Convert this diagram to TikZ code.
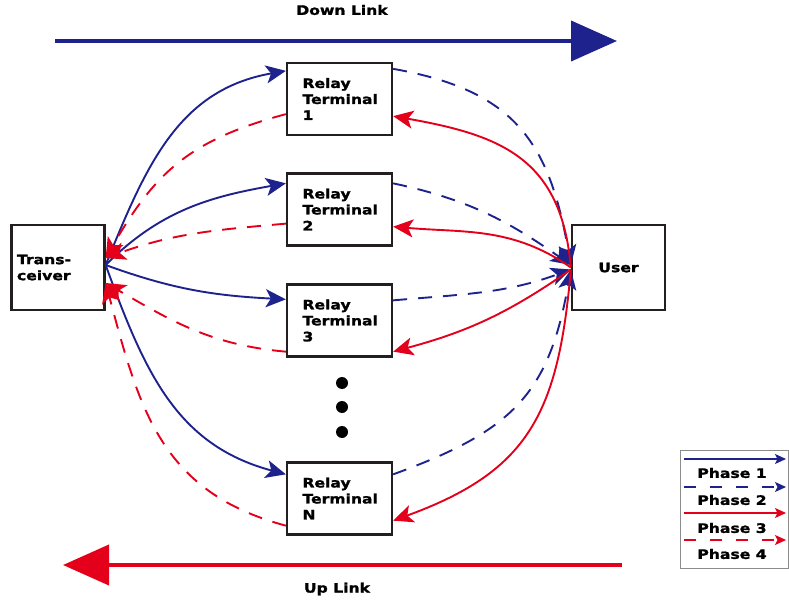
\documentclass[tikz,border=0pt]{standalone}
\usepackage{fontspec}
\setmainfont{DejaVu Sans}[FakeStretch=1.2, BoldFeatures={FakeBold=1.5}]
\usetikzlibrary{arrows.meta}
\definecolor{dblue}{RGB}{30,34,140}
\definecolor{dred}{RGB}{228,0,26}
\definecolor{boxline}{RGB}{35,31,32}
\begin{document}
\begin{tikzpicture}[x=1pt,y=1pt,
  lbl/.style={font=\bfseries\fontsize{13}{16}\selectfont},
  box/.style={draw=boxline, line width=2.3pt, fill=white, minimum width=105pt, minimum height=72pt,
    inner sep=0pt, font=\bfseries\fontsize{13}{16}\selectfont, align=left, text width=74pt},
  endbox/.style={box, minimum width=93pt, minimum height=85pt, text width=82pt},
  tip/.style={-{Stealth[length=20pt,width=18pt,inset=5pt]}},
  bl/.style={dblue, line width=1.9pt, tip},
  rd/.style={dred, line width=1.9pt, tip},
  dsh/.style={dash pattern=on 14pt off 11pt},
  big/.style={line width=4pt, -{Triangle[length=46pt,width=40pt]}},
  leg/.style={line width=1.2pt, -{Stealth[length=11pt,width=10pt,inset=2.5pt]}},
  dot/.style={circle, fill=black, minimum size=12pt, inner sep=0pt}
]
\useasboundingbox (0,0) rectangle (789,603);

% big link arrows
\coordinate (dlA) at (55,562);
\coordinate (dlB) at (617,562);
\draw[big, dblue] (dlA) -- (dlB);
\node[lbl] (dl) at (342,593) {Down Link};
\coordinate (ulA) at (622,38);
\coordinate (ulB) at (63,38);
\draw[big, dred] (ulA) -- (ulB);
\node[lbl] (ul) at (337,14) {Up Link};

% nodes
\node[endbox] (trx) at (58,335.5) {Trans-\\ceiver};
\node[endbox, align=center, text width=70pt] (user) at (618.5,335.5) {User};
\node[box] (r1) at (339.5,504) {Relay\\Terminal\\1};
\node[box] (r2) at (339.5,393.5) {Relay\\Terminal\\2};
\node[box] (r3) at (339.5,282.5) {Relay\\Terminal\\3};
\node[box] (rN) at (339.5,104.5) {Relay\\Terminal\\N};

\node[dot] (d1) at (342,220) {};
\node[dot] (d2) at (342,196) {};
\node[dot] (d3) at (342,171) {};

% phase 1: transceiver -> relays (blue solid)
\draw[bl] ([yshift=2.5pt]trx.east) to[out=68,in=190,looseness=1.05] ([yshift=-9pt]r1.north west);
\draw[bl] ([yshift=2.5pt]trx.east) to[out=45,in=190] ([yshift=-11pt]r2.north west);
\draw[bl] ([yshift=2.5pt]trx.east) to[out=-20,in=177] ([yshift=-16pt]r3.north west);
\draw[bl] ([yshift=2.5pt]trx.east) to[out=-70,in=165,looseness=1.05] ([yshift=-13pt]rN.north west);

% phase 2: relays -> user (blue dashed)
\draw[bl,dsh] ([yshift=-7pt]r1.north east) to[out=-10,in=100,looseness=1.2] ([yshift=2.5pt]user.west);
\draw[bl,dsh] ([yshift=-11pt]r2.north east) to[out=-12,in=145] ([yshift=2.5pt]user.west);
\draw[bl,dsh] ([yshift=-17pt]r3.north east) to[out=5,in=200] ([yshift=-2pt]user.west);
\draw[bl,dsh] ([yshift=-13pt]rN.north east) to[out=20,in=-100,looseness=1.2] ([yshift=-2pt]user.west);

% phase 3: user -> relays (red solid)
\draw[rd] ([yshift=0pt]user.west) to[out=95,in=-10,looseness=1.2] ([yshift=20pt]r1.south east);
\draw[rd] ([yshift=0pt]user.west) to[out=145,in=-5] ([yshift=20pt]r2.south east);
\draw[rd] ([yshift=-2pt]user.west) to[out=215,in=15] ([yshift=6pt]r3.south east);
\draw[rd] ([yshift=-2pt]user.west) to[out=-95,in=20,looseness=1.2] ([yshift=15pt]rN.south east);

% phase 4: relays -> transceiver (red dashed)
\draw[rd,dsh] ([yshift=22pt]r1.south west) to[out=195,in=60,looseness=1.1] ([yshift=9.5pt]trx.east);
\draw[rd,dsh] ([yshift=23pt]r2.south west) to[out=185,in=20] ([yshift=9.5pt]trx.east);
\draw[rd,dsh] ([yshift=6pt]r3.south west) to[out=175,in=-30] ([yshift=-15.5pt]trx.east);
\draw[rd,dsh] ([yshift=10pt]rN.south west) to[out=165,in=-75,looseness=1.1] ([yshift=-15.5pt]trx.east);

% legend
\node[draw=black!45, line width=0.8pt, minimum width=108pt, minimum height=118pt, inner sep=0pt] (legbox) at (734,94) {};
\coordinate (p1a) at (684,144); \coordinate (p1b) at (786,144);
\coordinate (p2a) at (684,116); \coordinate (p2b) at (786,116);
\coordinate (p3a) at (684,90);  \coordinate (p3b) at (786,90);
\coordinate (p4a) at (684,63);  \coordinate (p4b) at (786,63);
\draw[leg, dblue] (p1a) -- (p1b);
\draw[leg, dblue, dash pattern=on 12pt off 14pt] (p2a) -- (p2b);
\draw[leg, dred] (p3a) -- (p3b);
\draw[leg, dred, dash pattern=on 12pt off 14pt] (p4a) -- (p4b);
\node[lbl] (ph1) at (732,130) {Phase 1};
\node[lbl] (ph2) at (732,103) {Phase 2};
\node[lbl] (ph3) at (732,75) {Phase 3};
\node[lbl] (ph4) at (732,49) {Phase 4};
\end{tikzpicture}
\end{document}
